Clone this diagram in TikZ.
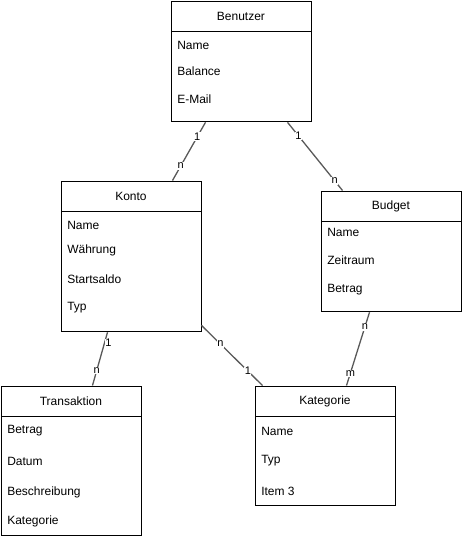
\documentclass[tikz,border=0pt]{standalone}
\usepackage{fontspec}
\setmainfont{Liberation Sans}
\usetikzlibrary{positioning}

\begin{document}
\begin{tikzpicture}[x=1pt,y=1pt,semithick,node distance=0pt]
  \tikzstyle{head}=[draw=black,line width=0.9pt,rectangle,anchor=north west,
                    minimum width=140pt,minimum height=30pt,inner sep=0pt,
                    font=\fontsize{12}{14}\selectfont]
  \tikzstyle{body}=[draw=black,line width=0.9pt,rectangle,
                    minimum width=140pt,inner sep=0pt]
  \tikzstyle{attr}=[anchor=west,inner sep=0pt,font=\fontsize{12}{14}\selectfont]
  \tikzstyle{rel}=[draw=black!65,line width=1.3pt]
  \tikzstyle{card}=[fill=white,inner sep=0.6pt,font=\fontsize{11}{12}\selectfont]

  \useasboundingbox (0,0) rectangle (461,-536);

  % Benutzer
  \node[head] (ben) at (170.5,-0.5) {Benutzer};
  \node[body,minimum height=90pt] (benB) [below=of ben] {};
  \node[attr] (benName) at (177,-45) {Name};
  \node[attr] (benBal)  at (177,-71) {Balance};
  \node[attr] (benMail) at (177,-99) {E-Mail};

  % Konto
  \node[head] (kon) at (60.5,-180.5) {Konto};
  \node[body,minimum height=120pt] (konB) [below=of kon] {};
  \node[attr] (konName) at (67,-225) {Name};
  \node[attr] (konWae)  at (67,-250) {Währung};
  \node[attr] (konSta)  at (67,-279) {Startsaldo};
  \node[attr] (konTyp)  at (67,-308) {Typ};

  % Budget
  \node[head] (bud) at (320.5,-190.5) {Budget};
  \node[body,minimum height=90pt] (budB) [below=of bud] {};
  \node[attr] (budName) at (327,-232) {Name};
  \node[attr] (budZeit) at (327,-260) {Zeitraum};
  \node[attr] (budBet)  at (327,-290) {Betrag};

  % Transaktion
  \node[head] (tra) at (0.5,-385.5) {Transaktion};
  \node[body,minimum height=119pt] (traB) [below=of tra] {};
  \node[attr] (traBet)  at (7,-431) {Betrag};
  \node[attr] (traDat)  at (7,-461) {Datum};
  \node[attr] (traBes)  at (7,-492) {Beschreibung};
  \node[attr] (traKat)  at (7,-521) {Kategorie};

  % Kategorie
  \node[head] (kat) at (254.5,-385.5) {Kategorie};
  \node[body,minimum height=89pt] (katB) [below=of kat] {};
  \node[attr] (katName) at (261,-431) {Name};
  \node[attr] (katTyp)  at (261,-461) {Typ};
  \node[attr] (katItem) at (261,-491) {Item 3};

  \path[rel] ([xshift=35pt]benB.south west) -- node[card,pos=0.25] {1} node[card,pos=0.75] {n} ([xshift=112pt]kon.north west);
  \path[rel] ([xshift=117pt]benB.south west) -- node[card,pos=0.2] {1} node[card,pos=0.86] {n} ([xshift=22pt]bud.north west);
  \path[rel] ([xshift=47pt]konB.south west) -- node[card,pos=0.2,xshift=4pt] {1} node[card,pos=0.72] {n} ([xshift=92pt]tra.north west);
  \path[rel] ([yshift=7pt]konB.south east) -- node[card,pos=0.31] {n} node[card,pos=0.76] {1} ([xshift=8pt]kat.north west);
  \path[rel] ([xshift=49pt]budB.south west) -- node[card,pos=0.2] {n} node[card,pos=0.83] {m} ([xshift=92pt]kat.north west);
\end{tikzpicture}
\end{document}
